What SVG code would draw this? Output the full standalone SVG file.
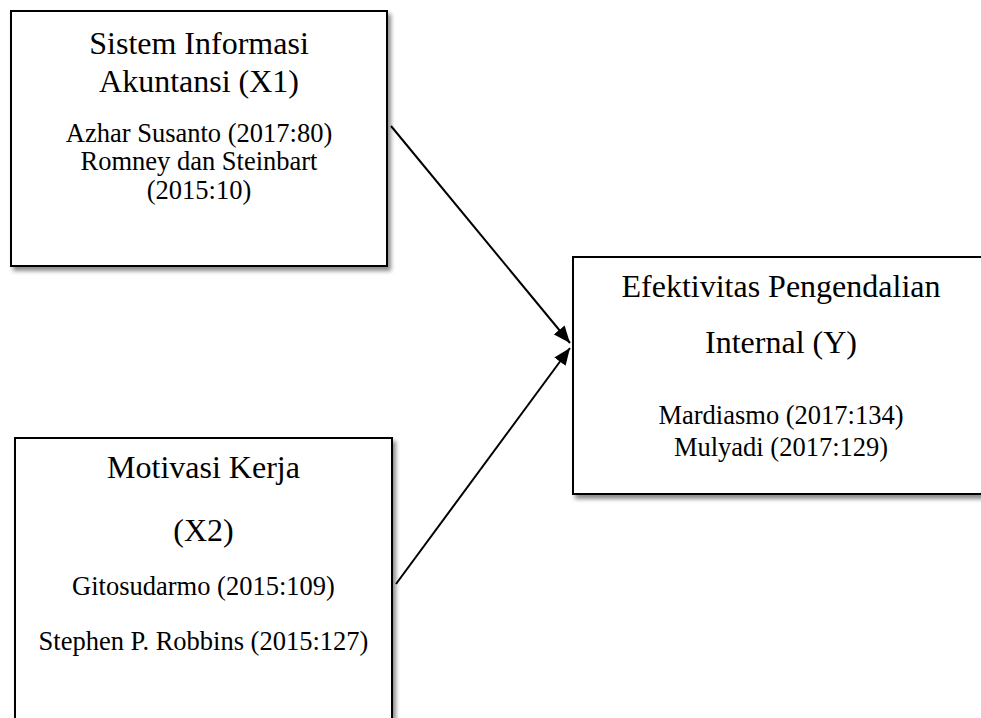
<svg xmlns="http://www.w3.org/2000/svg" width="981" height="718" viewBox="0 0 981 718">
  <style>
    .box { fill: #ffffff; stroke: #000000; stroke-width: 2; filter: url(#shadow); }
    .title { font-family: "Liberation Serif", "Times New Roman", serif; font-size: 32px; fill: #000000; text-anchor: middle; }
    .ref { font-family: "Liberation Serif", "Times New Roman", serif; font-size: 26.5px; fill: #000000; text-anchor: middle; }
    .conn { stroke: #000000; stroke-width: 2; fill: none; marker-end: url(#arrow); }
  </style>
  <defs>
    <filter id="shadow" x="-10%" y="-10%" width="125%" height="130%">
      <feDropShadow dx="3" dy="4" stdDeviation="2" flood-color="#000000" flood-opacity="0.45"/>
    </filter>
    <marker id="arrow" markerUnits="userSpaceOnUse" markerWidth="18" markerHeight="14" refX="17" refY="7" orient="auto">
      <path d="M0,0 L17,7 L0,14 z" fill="#000000"/>
    </marker>
  </defs>
  <rect width="981" height="718" fill="#ffffff"/>

  <g id="node-x1">
    <rect class="box" x="11" y="11" width="376" height="255"/>
    <text class="title" x="199" y="54">Sistem Informasi</text>
    <text class="title" x="199" y="92">Akuntansi (X1)</text>
    <text class="ref" x="199" y="141.5">Azhar Susanto (2017:80)</text>
    <text class="ref" x="199" y="170">Romney dan Steinbart</text>
    <text class="ref" x="199" y="198.5">(2015:10)</text>
  </g>

  <g id="node-y">
    <rect class="box" x="573" y="257" width="416" height="237"/>
    <text class="title" x="781" y="297">Efektivitas Pengendalian</text>
    <text class="title" x="781" y="353">Internal (Y)</text>
    <text class="ref" x="781" y="424">Mardiasmo (2017:134)</text>
    <text class="ref" x="781" y="456">Mulyadi (2017:129)</text>
  </g>

  <g id="node-x2">
    <rect class="box" x="15" y="438" width="377" height="300"/>
    <text class="title" x="203.5" y="478">Motivasi Kerja</text>
    <text class="title" x="203.5" y="541">(X2)</text>
    <text class="ref" x="203.5" y="595">Gitosudarmo (2015:109)</text>
    <text class="ref" x="203.5" y="650">Stephen P. Robbins (2015:127)</text>
  </g>

  <g id="connectors">
    <line class="conn" x1="391" y1="126" x2="570" y2="343"/>
    <line class="conn" x1="396" y1="584" x2="570" y2="348"/>
  </g>
</svg>
